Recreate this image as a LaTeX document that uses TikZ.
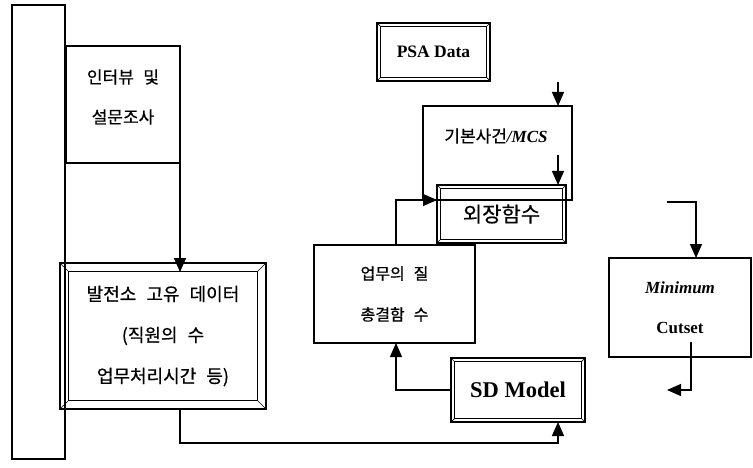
\documentclass[tikz,border=0pt]{standalone}
\usepackage{fontspec}
\setmainfont{Liberation Serif}
\newfontfamily\kr[WordSpace=2.5,FakeBold=0.6]{Noto Sans CJK KR}
\usetikzlibrary{arrows.meta,calc}

\newcommand{\bevelframe}[2]{%
  \draw[line width=0.9pt] ([xshift=#2,yshift=-#2]#1.north west) rectangle ([xshift=-#2,yshift=#2]#1.south east);
  \draw[line width=0.7pt] (#1.north west) -- ([xshift=#2,yshift=-#2]#1.north west);
  \draw[line width=0.7pt] (#1.north east) -- ([xshift=-#2,yshift=-#2]#1.north east);
  \draw[line width=0.7pt] (#1.south west) -- ([xshift=#2,yshift=#2]#1.south west);
  \draw[line width=0.7pt] (#1.south east) -- ([xshift=-#2,yshift=#2]#1.south east);
}

\tikzset{
  box/.style={draw, line width=1.3pt, inner sep=0pt, outer sep=0pt, align=center},
  arr/.style={line width=1.3pt, -{Triangle[length=14pt,width=12pt]}},
  lbl/.style={inner sep=0pt, align=center},
}

\begin{document}
\begin{tikzpicture}[x=1pt,y=-1pt]
\useasboundingbox (0,0) rectangle (753,468);

% boxes
\node[box, line width=1.6pt, minimum width=53pt, minimum height=454pt] (bar) at (38.5,232) {};
\node[box, minimum width=114pt, minimum height=117pt] (interview) at (123,104.5) {};
\node[lbl, font={\kr\fontsize{17}{40}\selectfont}] (interviewtext) at (123,97) {인터뷰 및\\설문조사};

\node[box, minimum width=206pt, minimum height=146pt, font={\kr\fontsize{18}{41}\selectfont}] (fac) at (163,336)
  {발전소 고유 데이터\\(직원의 수\\업무처리시간 등)};
\bevelframe{fac}{8.5pt}

\node[box, minimum width=113pt, minimum height=58pt, font={\bfseries\fontsize{17.5}{20}\selectfont}] (psa) at (433.5,52) {PSA Data};
\bevelframe{psa}{3.5pt}

\node[box, minimum width=149pt, minimum height=94pt] (basic) at (497.5,153) {};
\node[lbl, font={\fontsize{17}{20}\selectfont}] (basictext) at (496,136) {{\kr 기본사건}\textbf{\textit{/MCS}}};

\node[box, minimum width=129pt, minimum height=58pt, font={\kr\fontsize{21}{25}\selectfont}] (ext) at (501.5,214) {외장함수};
\bevelframe{ext}{3.5pt}

\node[box, minimum width=161pt, minimum height=98pt, font={\kr\fontsize{16}{41}\selectfont}] (work) at (394.5,294)
  {업무의 질\\총결함 수};

\node[box, minimum width=134pt, minimum height=64pt, font={\bfseries\fontsize{22.5}{26}\selectfont}] (sd) at (518,390) {SD Model};
\bevelframe{sd}{3.5pt}

\node[box, minimum width=142pt, minimum height=99pt, font={\bfseries\fontsize{17}{40}\selectfont}] (mincut) at (680,307.5)
  {\textit{Minimum}\\Cutset};

% connectors
\draw[arr] (interview.south east) -- ($(fac.north -| interview.south east)+(0,9)$);
\draw[arr] (fac.south -| interview.south east) -- ++(0,34) -| ($(sd.south east)+(-27,0)$);
\draw[arr] (sd.west) -| ($(work.south west)+(82,0)$);
\draw[arr] ($(work.north west)+(82,0)$) |- ($(ext.north west)+(0,15)$);
\draw[arr] ($(basic.north east)+(-14,-24)$) -- ($(basic.north east)+(-14,0)$);
\draw[arr] ($(ext.north east)+(-8,-30)$) -- ($(ext.north east)+(-8,0)$);
\draw[arr] ($(mincut.north west)+(58,-56)$) -| ($(mincut.north west)+(87,0)$);
\draw[arr] ($(mincut.south west)+(82,-15)$) |- ($(mincut.south west)+(58,33)$);
\end{tikzpicture}
\end{document}
